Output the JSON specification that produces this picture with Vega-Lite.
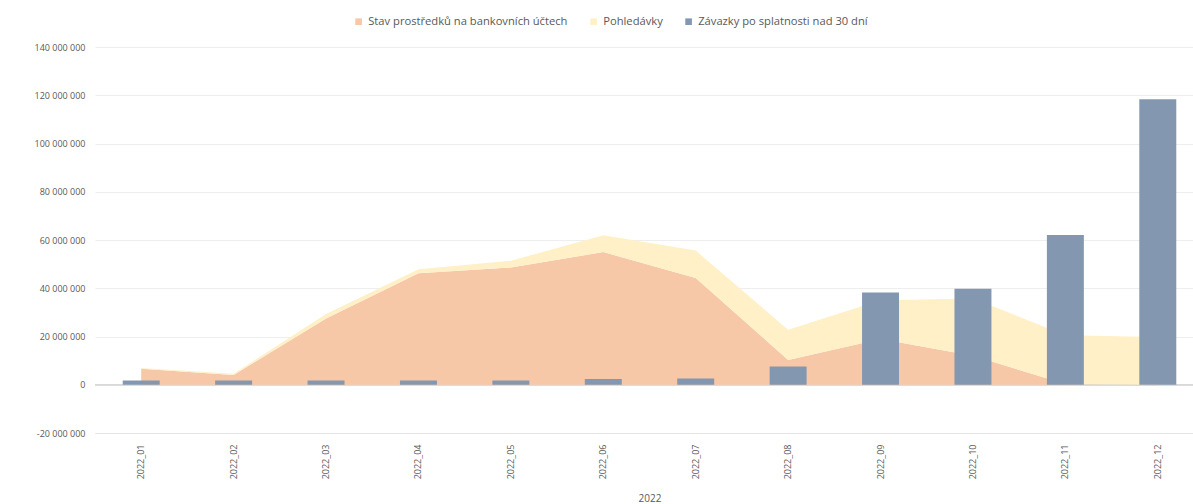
{
  "$schema": "https://vega.github.io/schema/vega-lite/v6.json",
  "width": 1098,
  "height": 386,
  "autosize": {"type": "none"},
  "padding": {"left": 95, "top": 47, "right": 0, "bottom": 71},
  "background": "white",
  "config": {
    "view": {"stroke": null},
    "font": "Open Sans",
    "axis": {"labelColor": "#595959", "titleColor": "#595959"}
  },
  "data": {
    "values": [
      {"m": "2022_01", "s": "Stav prostředků na bankovních účtech", "v": 6600000},
      {"m": "2022_02", "s": "Stav prostředků na bankovních účtech", "v": 4000000},
      {"m": "2022_03", "s": "Stav prostředků na bankovních účtech", "v": 27500000},
      {"m": "2022_04", "s": "Stav prostředků na bankovních účtech", "v": 46200000},
      {"m": "2022_05", "s": "Stav prostředků na bankovních účtech", "v": 48600000},
      {"m": "2022_06", "s": "Stav prostředků na bankovních účtech", "v": 55000000},
      {"m": "2022_07", "s": "Stav prostředků na bankovních účtech", "v": 44300000},
      {"m": "2022_08", "s": "Stav prostředků na bankovních účtech", "v": 10300000},
      {"m": "2022_09", "s": "Stav prostředků na bankovních účtech", "v": 19000000},
      {"m": "2022_10", "s": "Stav prostředků na bankovních účtech", "v": 12000000},
      {"m": "2022_11", "s": "Stav prostředků na bankovních účtech", "v": 300000},
      {"m": "2022_12", "s": "Stav prostředků na bankovních účtech", "v": -300000},
      {"m": "2022_01", "s": "Pohledávky", "v": 300000},
      {"m": "2022_02", "s": "Pohledávky", "v": 600000},
      {"m": "2022_03", "s": "Pohledávky", "v": 1800000},
      {"m": "2022_04", "s": "Pohledávky", "v": 1700000},
      {"m": "2022_05", "s": "Pohledávky", "v": 2800000},
      {"m": "2022_06", "s": "Pohledávky", "v": 7000000},
      {"m": "2022_07", "s": "Pohledávky", "v": 11300000},
      {"m": "2022_08", "s": "Pohledávky", "v": 12500000},
      {"m": "2022_09", "s": "Pohledávky", "v": 16000000},
      {"m": "2022_10", "s": "Pohledávky", "v": 23800000},
      {"m": "2022_11", "s": "Pohledávky", "v": 20200000},
      {"m": "2022_12", "s": "Pohledávky", "v": 19800000},
      {"m": "2022_01", "s": "Závazky po splatnosti nad 30 dní", "v": 1800000},
      {"m": "2022_02", "s": "Závazky po splatnosti nad 30 dní", "v": 1800000},
      {"m": "2022_03", "s": "Závazky po splatnosti nad 30 dní", "v": 1800000},
      {"m": "2022_04", "s": "Závazky po splatnosti nad 30 dní", "v": 1800000},
      {"m": "2022_05", "s": "Závazky po splatnosti nad 30 dní", "v": 1800000},
      {"m": "2022_06", "s": "Závazky po splatnosti nad 30 dní", "v": 2400000},
      {"m": "2022_07", "s": "Závazky po splatnosti nad 30 dní", "v": 2600000},
      {"m": "2022_08", "s": "Závazky po splatnosti nad 30 dní", "v": 7600000},
      {"m": "2022_09", "s": "Závazky po splatnosti nad 30 dní", "v": 38200000},
      {"m": "2022_10", "s": "Závazky po splatnosti nad 30 dní", "v": 39800000},
      {"m": "2022_11", "s": "Závazky po splatnosti nad 30 dní", "v": 62100000},
      {"m": "2022_12", "s": "Závazky po splatnosti nad 30 dní", "v": 118300000}
    ]
  },
  "layer": [
    {
      "mark": {"type": "rule", "color": "#D9D9D9", "strokeWidth": 1},
      "encoding": {
        "y": {"datum": 0, "type": "quantitative", "scale": {"domain": [-20000000, 140000000], "nice": false}}
      }
    },
    {
      "transform": [{"filter": "datum.s != 'Závazky po splatnosti nad 30 dní'"}],
      "mark": {"type": "area", "interpolate": "linear"},
      "encoding": {
        "x": {"field": "m", "type": "ordinal", "bandPosition": 0.5},
        "y": {"field": "v", "type": "quantitative", "stack": "zero"},
        "order": {"field": "s", "sort": "descending"},
        "color": {"field": "s", "type": "nominal"}
      }
    },
    {
      "transform": [{"filter": "datum.s == 'Závazky po splatnosti nad 30 dní'"}],
      "mark": {"type": "bar"},
      "encoding": {
        "x": {
          "field": "m",
          "type": "ordinal",
          "scale": {"range": [0, 1109], "paddingInner": 0.6, "paddingOuter": 0.3},
          "axis": {
            "title": "2022",
            "titleFontSize": 10,
            "titleFontWeight": "normal",
            "titlePadding": 15,
            "labelAngle": -90,
            "labelFontSize": 9,
            "labelPadding": 11,
            "ticks": false,
            "domain": true,
            "domainColor": "#E3E3E3",
            "grid": false
          }
        },
        "y": {
          "field": "v",
          "type": "quantitative",
          "stack": null,
          "scale": {"domain": [-20000000, 140000000], "nice": false},
          "axis": {
            "title": null,
            "values": [-20000000, 0, 20000000, 40000000, 60000000, 80000000, 100000000, 120000000, 140000000],
            "labelExpr": "datum.value == 0 ? '0' : replace(replace(format(datum.value, ','), regexp(',', 'g'), ' '), '−', '-')",
            "labelFontSize": 9,
            "labelPadding": 10,
            "ticks": false,
            "domain": false,
            "grid": true,
            "gridColor": "#EEEEEE"
          }
        },
        "color": {
          "field": "s",
          "type": "nominal",
          "scale": {
            "domain": ["Stav prostředků na bankovních účtech", "Pohledávky", "Závazky po splatnosti nad 30 dní"],
            "range": ["#F7C8A8", "#FFF0C8", "#8497B0"]
          },
          "legend": {
            "title": null,
            "orient": "none",
            "legendX": 258,
            "legendY": -31,
            "direction": "horizontal",
            "symbolType": "square",
            "symbolSize": 44,
            "symbolStrokeWidth": 0,
            "labelFontSize": 11.2,
            "labelLimit": 0,
            "labelColor": "#595959",
            "labelOffset": 4,
            "columnPadding": 20
          }
        }
      }
    }
  ]
}
